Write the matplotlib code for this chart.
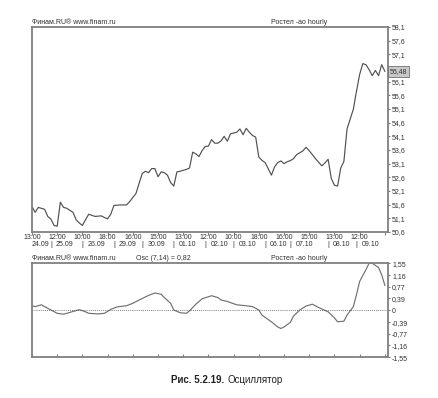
import numpy as np
import matplotlib
matplotlib.use('Agg')
from matplotlib import pyplot as plt

plt.rcParams['font.family'] = ['Liberation Sans', 'DejaVu Sans']

# hourly bars
price_bar = [0, 1, 2, 4, 5, 6, 7, 8, 9, 10, 11, 13, 14, 15, 16, 17, 18, 20, 22, 23,
             24, 25, 26, 28, 30, 31, 33, 34, 35, 36, 37, 38, 39, 40, 41, 42, 43, 44, 45, 46,
             47, 49, 50, 51, 52, 53, 54, 55, 56, 57, 58, 59, 60, 61, 62, 63, 65, 66, 67, 68,
             69, 70, 71, 72, 73, 74, 76, 77, 78, 79, 80, 81, 82, 83, 84, 85, 86, 87, 88, 89,
             90, 92, 93, 94, 95, 96, 97, 98, 99, 100, 101, 102, 103, 104, 105, 106, 107, 108, 109, 110,
             111, 112]
price_val = [51.53, 51.32, 51.50, 51.43, 51.17, 51.07, 50.84, 50.81, 51.69, 51.50, 51.47, 51.32, 51.05, 50.93, 50.84, 51.05, 51.25, 51.17, 51.19, 51.13,
             51.08, 51.25, 51.57, 51.59, 51.59, 51.71, 52.01, 52.38, 52.74, 52.82, 52.77, 52.92, 52.92, 52.62, 52.80, 52.77, 52.68, 52.41, 52.28, 52.80,
             52.82, 52.89, 52.94, 53.52, 53.46, 53.36, 53.58, 53.73, 53.74, 53.98, 53.85, 53.85, 53.93, 54.10, 53.92, 54.19, 54.25, 54.37, 54.16, 54.39,
             54.25, 54.13, 54.07, 53.34, 53.22, 53.14, 52.68, 52.98, 53.14, 53.20, 53.10, 53.17, 53.21, 53.28, 53.43, 53.50, 53.57, 53.70, 53.57, 53.43,
             53.28, 53.02, 53.13, 53.26, 52.56, 52.31, 52.28, 52.94, 53.18, 54.37, 54.73, 55.09, 55.75, 56.36, 56.76, 56.72, 56.54, 56.32, 56.51, 56.32,
             56.72, 56.48]

osc_bar = [0, 1, 3, 4, 6, 8, 10, 12, 15, 17, 18, 21, 23, 25, 27, 30, 32, 34, 37, 39,
           41, 42, 44, 45, 47, 49, 50, 52, 54, 57, 59, 60, 62, 65, 68, 70, 72, 73, 76, 78,
           79, 80, 82, 83, 85, 87, 89, 91, 94, 96, 97, 99, 100, 102, 103, 104, 106, 107, 108, 110,
           111, 112]
osc_val = [0.15, 0.12, 0.18, 0.12, 0.01, -0.10, -0.13, -0.07, 0.02, -0.05, -0.10, -0.12, -0.10, 0.03, 0.11, 0.15, 0.23, 0.34, 0.49, 0.57,
           0.53, 0.42, 0.23, 0.01, -0.08, -0.10, -0.02, 0.20, 0.38, 0.48, 0.42, 0.34, 0.29, 0.18, 0.15, 0.12, 0.01, -0.16, -0.38, -0.55,
           -0.60, -0.55, -0.40, -0.19, 0.01, 0.14, 0.20, 0.09, -0.05, -0.25, -0.38, -0.36, -0.16, 0.12, 0.51, 0.95, 1.34, 1.55, 1.55, 1.41,
           1.17, 0.82]

time_labels = ['13:00', '12:00', '10:00', '18:00', '16:00', '15:00', '13:00',
               '12:00', '10:00', '18:00', '16:00', '15:00', '13:00', '12:00']
date_labels = ['24.09', '25.09', '26.09', '29.09', '30.09', '01.10',
               '02.10', '03.10', '06.10', '07.10', '08.10', '09.10']
day_start = [6, 16, 26, 35, 45, 55, 64, 74, 82, 94, 103]

price_ticks = [58.1, 57.6, 57.1, 56.1, 55.6, 55.1, 54.6, 54.1, 53.6, 53.1, 52.6, 52.1, 51.6, 51.1, 50.6]
last_price = 56.48
osc_ticks = [1.55, 1.16, 0.77, 0.39, 0, -0.39, -0.77, -1.16, -1.55]
osc_last = 0.82

nbars = 113
tick_step = 8
fs = 5
grey = '#808080'
txt = '#303030'


def comma(v):
    s = ('%g' % v) if v == 0 else ('%.2f' % v).rstrip('0')
    return s.replace('.', ',')


fig = plt.figure(figsize=(4.39, 3.98), dpi=100)
ax1 = fig.add_axes([0.0729, 0.4171, 0.8109, 0.5151])
ax2 = fig.add_axes([0.0729, 0.1023, 0.8109, 0.2362])

for ax in (ax1, ax2):
    ax.set_xlim(0, nbars)
    for sp in ax.spines.values():
        sp.set_color(grey)
        sp.set_linewidth(1.3)
    ax.yaxis.tick_right()
    ax.tick_params(axis='y', length=1.5, pad=1.5, labelsize=fs, colors=grey, labelcolor=txt)

# price panel
ax1.plot(price_bar, price_val, color='#505050', lw=0.85)
ax1.set_ylim(50.6, 58.1)
ax1.set_yticks(price_ticks, [comma(v) for v in price_ticks])
ax1.set_xticks(np.arange(0, nbars, tick_step), [])
ax1.tick_params(axis='x', length=2, direction='out', colors=grey)
ax1.text(1.004, last_price, comma(last_price), transform=ax1.get_yaxis_transform(),
         ha='left', va='center', fontsize=fs, color=txt,
         bbox=dict(boxstyle='square,pad=0.25', fc='#c8c8c8', ec='#707070', lw=0.6))

xt = ax1.get_xaxis_transform()
for i, lab in enumerate(time_labels):
    ax1.text(i * tick_step, -0.029, lab, transform=xt, ha='center', va='center',
             fontsize=fs, color=txt)
ax1.text(day_start[0] - 0.6, -0.062, date_labels[0], transform=xt, ha='right',
         va='center', fontsize=fs, color=txt)
for d, lab in zip(day_start, date_labels[1:]):
    ax1.text(d, -0.062, '|', transform=xt, ha='center', va='center', fontsize=fs, color=txt)
    ax1.text(d + 1.6, -0.062, lab, transform=xt, ha='left', va='center', fontsize=fs, color=txt)

ax1.text(0, 1.006, 'Финам.RU® www.finam.ru', transform=ax1.transAxes, ha='left',
         va='bottom', fontsize=fs, color=txt)
ax1.text(0.75, 1.006, 'Ростел -ао hourly', transform=ax1.transAxes, ha='center',
         va='bottom', fontsize=fs, color=txt)

# oscillator panel
ax2.plot(osc_bar, osc_val, color='#707070', lw=0.85)
ax2.axhline(0, color='#505050', lw=0.6, ls=(0, (1, 1.5)))
ax2.set_ylim(-1.55, 1.55)
ax2.set_yticks(osc_ticks, [comma(v) for v in osc_ticks])
ax2.set_xticks(np.arange(0, nbars, tick_step), [])
ax2.tick_params(axis='x', length=2, direction='in', colors=grey)

ax2.text(0, 1.015, 'Финам.RU® www.finam.ru', transform=ax2.transAxes, ha='left',
         va='bottom', fontsize=fs, color=txt)
ax2.text(0.37, 1.015, 'Osc (7,14) = ' + comma(osc_last), transform=ax2.transAxes,
         ha='center', va='bottom', fontsize=fs, color=txt)
ax2.text(0.75, 1.015, 'Ростел -ао hourly', transform=ax2.transAxes, ha='center',
         va='bottom', fontsize=fs, color=txt)

# caption
fig.text(224 / 439, 0.045, 'Рис. 5.2.19.', ha='right', va='center', fontsize=7,
         fontweight='bold', color='#202020')
fig.text(227 / 439, 0.045, 'Осциллятор', ha='left', va='center', fontsize=7,
         color='#202020')

fig.savefig('out.png', dpi=100)
